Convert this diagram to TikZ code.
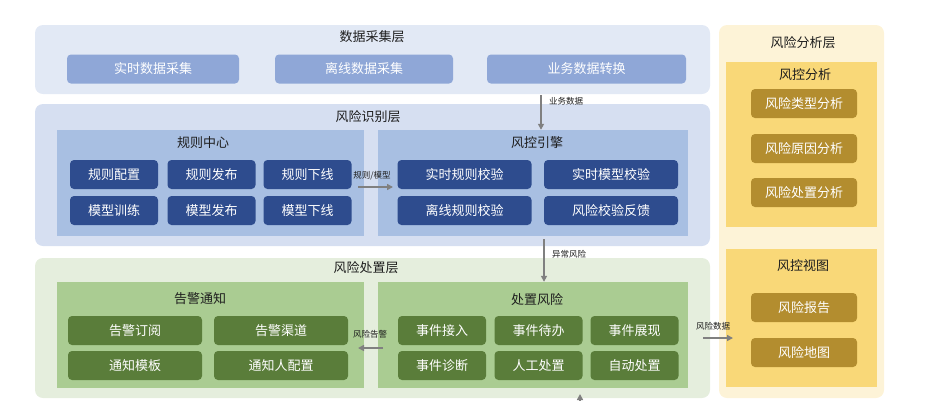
\documentclass[tikz,border=0pt]{standalone}
\usepackage{fontspec}
\setmainfont{Noto Sans CJK SC}
\usetikzlibrary{arrows.meta, positioning}
\definecolor{CollectBG}{RGB}{226,233,245}
\definecolor{CollectBox}{RGB}{143,167,215}
\definecolor{IdentBG}{RGB}{214,223,241}
\definecolor{IdentPanel}{RGB}{168,191,226}
\definecolor{IdentBox}{RGB}{46,76,142}
\definecolor{HandleBG}{RGB}{229,238,221}
\definecolor{HandlePanel}{RGB}{170,204,146}
\definecolor{HandleBox}{RGB}{90,125,58}
\definecolor{AnaBG}{RGB}{253,243,215}
\definecolor{AnaPanel}{RGB}{249,216,120}
\definecolor{AnaBox}{RGB}{179,141,47}
\definecolor{FlowGray}{RGB}{128,128,128}
\definecolor{TitleInk}{RGB}{30,30,30}

\begin{document}
\begin{tikzpicture}[x=1pt, y=-1pt,
  layer/.style={fill=#1, rounded corners=8pt, inner sep=0pt},
  panel/.style={fill=#1, inner sep=0pt},
  item/.style={fill=#1, rounded corners=4pt, inner sep=0pt, text=white,
    font=\fontsize{13}{15}\selectfont, minimum height=29pt},
  ttl/.style={text=TitleInk, font=\fontsize{13}{15}\selectfont, inner sep=0pt},
  lbl/.style={text=TitleInk, font=\fontsize{8.5}{10}\selectfont, inner sep=0pt},
  flow/.style={FlowGray, line width=1.8pt, -{Triangle[length=6pt,width=6pt]}}]
  \useasboundingbox (0,0) rectangle (941,400);

  \node[layer=CollectBG, minimum width=675pt, minimum height=69pt] (cjc) at (372.5,59.5) {};
  \node[ttl] (cjct) at (372,37) {数据采集层};
  \node[item=CollectBox, minimum width=172pt] (sscj) at (153,69) {实时数据采集};
  \node[item=CollectBox, minimum width=178pt] (lxcj) at (364,69) {离线数据采集};
  \node[item=CollectBox, minimum width=199pt] (ywzh) at (586.5,69) {业务数据转换};

  \node[layer=IdentBG, minimum width=675pt, minimum height=142pt] (sbc) at (372.5,175) {};
  \node[ttl] (sbct) at (368,117) {风险识别层};
  \node[panel=IdentPanel, minimum width=307pt, minimum height=106pt] (gzzx) at (210.5,183) {};
  \node[ttl] (gzzxt) at (203,143) {规则中心};
  \node[item=IdentBox, minimum width=88pt] (gzpz) at (114,174.5) {规则配置};
  \node[item=IdentBox, minimum width=88pt] (gzfb) at (211.5,174.5) {规则发布};
  \node[item=IdentBox, minimum width=88pt] (gzxx) at (307.5,174.5) {规则下线};
  \node[item=IdentBox, minimum width=88pt] (mxxl) at (114,210.5) {模型训练};
  \node[item=IdentBox, minimum width=88pt] (mxfb) at (211.5,210.5) {模型发布};
  \node[item=IdentBox, minimum width=88pt] (mxxx) at (307.5,210.5) {模型下线};
  \node[panel=IdentPanel, minimum width=310pt, minimum height=106pt] (fkyq) at (533,183) {};
  \node[ttl] (fkyqt) at (537,143) {风控引擎};
  \node[item=IdentBox, minimum width=134pt] (ssgz) at (464.5,174.5) {实时规则校验};
  \node[item=IdentBox, minimum width=134pt] (ssmx) at (611,174.5) {实时模型校验};
  \node[item=IdentBox, minimum width=134pt] (lxgz) at (464.5,210.5) {离线规则校验};
  \node[item=IdentBox, minimum width=134pt] (jyfk) at (611,210.5) {风险校验反馈};

  \node[layer=HandleBG, minimum width=675pt, minimum height=140pt] (czc) at (372.5,328) {};
  \node[ttl] (czct) at (366,268) {风险处置层};
  \node[panel=HandlePanel, minimum width=307pt, minimum height=106pt] (gjtz) at (210.5,335) {};
  \node[ttl] (gjtzt) at (200,299) {告警通知};
  \node[item=HandleBox, minimum width=134pt] (gjdy) at (135,330.5) {告警订阅};
  \node[item=HandleBox, minimum width=134pt] (gjqd) at (281,330.5) {告警渠道};
  \node[item=HandleBox, minimum width=134pt] (tzmb) at (135,365.5) {通知模板};
  \node[item=HandleBox, minimum width=134pt] (tzpz) at (281,365.5) {通知人配置};
  \node[panel=HandlePanel, minimum width=310pt, minimum height=106pt] (czfx) at (533,335) {};
  \node[ttl] (czfxt) at (537,300) {处置风险};
  \node[item=HandleBox, minimum width=88pt] (sjjr) at (442,330.5) {事件接入};
  \node[item=HandleBox, minimum width=88pt] (sjdb) at (538.5,330.5) {事件待办};
  \node[item=HandleBox, minimum width=88pt] (sjzx) at (634.5,330.5) {事件展现};
  \node[item=HandleBox, minimum width=88pt] (sjzd) at (442,365.5) {事件诊断};
  \node[item=HandleBox, minimum width=88pt] (rgcz) at (538.5,365.5) {人工处置};
  \node[item=HandleBox, minimum width=88pt] (zdcz) at (634.5,365.5) {自动处置};

  \node[layer=AnaBG, minimum width=165pt, minimum height=373pt] (fxc) at (801.5,211.5) {};
  \node[ttl] (fxct) at (803,43) {风险分析层};
  \node[panel=AnaPanel, minimum width=151pt, minimum height=165pt] (fkfx) at (801.5,144.5) {};
  \node[ttl] (fkfxt) at (805,75) {风控分析};
  \node[item=AnaBox, minimum width=106pt] (lxfx) at (804,103.5) {风险类型分析};
  \node[item=AnaBox, minimum width=106pt] (yyfx) at (804,148.5) {风险原因分析};
  \node[item=AnaBox, minimum width=106pt] (czfxb) at (804,192.5) {风险处置分析};
  \node[panel=AnaPanel, minimum width=151pt, minimum height=138pt] (fkst) at (801.5,318) {};
  \node[ttl] (fkstt) at (803,266) {风控视图};
  \node[item=AnaBox, minimum width=106pt] (fxbg) at (804,307.5) {风险报告};
  \node[item=AnaBox, minimum width=106pt] (fxdt) at (804,352.5) {风险地图};

  \coordinate (ywsj) at (541,95);
  \draw[flow] (ywsj) -- (ywsj |- fkyq.north);
  \node[lbl, anchor=west] (ywsjl) at (549,101) {业务数据};
  \coordinate (gzmxA) at (358,187);
  \coordinate (gzmxB) at (393,187);
  \draw[flow] (gzmxA) -- (gzmxB);
  \node[lbl] (gzmxl) at (372,176) {规则/模型};
  \coordinate (ycfx) at (544,239);
  \draw[flow] (ycfx) -- (ycfx |- czfx.north);
  \node[lbl, anchor=west] (ycfxl) at (552,254) {异常风险};
  \coordinate (fxgjA) at (383,348);
  \coordinate (fxgjB) at (358,348);
  \draw[flow] (fxgjA) -- (fxgjB);
  \node[lbl] (fxgjl) at (370,334) {风险告警};
  \coordinate (fxsjA) at (703,338);
  \coordinate (fxsjB) at (733,338);
  \draw[flow] (fxsjA) -- (fxsjB);
  \node[lbl] (fxsjl) at (713,326) {风险数据};
  \coordinate (dbin) at (580,406);
  \draw[flow] (dbin) -- (580,394);
\end{tikzpicture}
\end{document}
